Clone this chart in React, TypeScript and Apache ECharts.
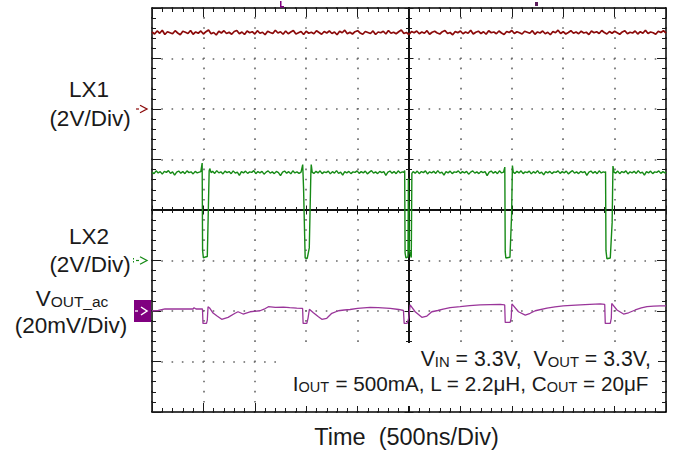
import React, { useEffect, useRef } from "react";
import * as echarts from "echarts";

// ---- scope settings -------------------------------------------------------
const NS_PER_DIV = 500;          // Time (500ns/Div)
const X_DIVS = 10;
const Y_DIVS = 8;
const TRIGGER_NS = 2500;         // screen centre, times below are from the left edge

// channel ground position (divisions from screen centre) and scale per division
const LX1_GROUND_DIV = 2;
const LX1_V_PER_DIV = 2;
const LX2_GROUND_DIV = -1;
const LX2_V_PER_DIV = 2;
const VOUT_GROUND_DIV = -2;
const VOUT_MV_PER_DIV = 20;

// ---- traces ---------------------------------------------------------------
// LX1 (V), sampled every 25 ns from the left edge
const LX1_DT_NS = 25;
const LX1_V = [
  3.05, 2.97, 3.09, 3.0, 3.12, 2.95, 3.06, 3.02, 2.98, 3.1,
  3.01, 2.94, 3.08, 3.04, 2.99, 3.11, 2.96, 3.05, 3.0, 3.09,
  2.97, 3.06, 3.13, 2.98, 3.03, 2.93, 3.08, 3.01, 3.1, 2.99,
  3.04, 2.96, 3.07, 3.11, 2.98, 3.05, 2.95, 3.09, 3.02, 3.06,
  2.97, 3.1, 3.0, 3.04, 2.94, 3.08, 3.03, 2.99, 3.12, 3.01,
  3.06, 2.96, 3.09, 2.98, 3.05, 3.11, 2.97, 3.02, 3.07, 2.95,
  3.08, 3.0, 3.04, 2.98, 3.1, 3.03, 2.96, 3.07, 3.01, 3.09,
  2.99, 3.05, 2.94, 3.08, 3.02, 3.12, 2.98, 3.04, 2.97, 3.06,
  3.1, 3.01, 2.96, 3.07, 3.03, 2.99, 3.09, 2.95, 3.05, 3.02,
  3.08, 2.97, 3.11, 3.0, 3.04, 2.98, 3.06, 3.13, 2.99, 3.03,
  2.95, 3.07, 3.02, 3.09, 2.98, 3.05, 3.0, 3.1, 2.96, 3.04,
  3.08, 3.01, 2.97, 3.06, 3.11, 2.99, 3.03, 2.94, 3.07, 3.02,
  3.09, 2.98, 3.05, 3.0, 3.12, 2.97, 3.04, 3.08, 2.99, 3.06,
  2.96, 3.1, 3.02, 3.05, 2.98, 3.09, 3.01, 2.95, 3.07, 3.03,
  3.11, 2.99, 3.06, 3.02, 2.97, 3.08, 3.04, 3.0, 3.1, 2.96,
  3.05, 3.01, 3.09, 2.98, 3.04, 2.94, 3.07, 3.02, 3.12, 2.99,
  3.06, 2.97, 3.03, 3.1, 3.0, 3.05, 2.98, 3.08, 3.01, 3.04,
  2.95, 3.09, 3.02, 3.06, 2.99, 3.11, 3.03, 2.97, 3.07, 3.0,
  3.08, 3.02, 2.96, 3.05, 3.1, 2.98, 3.04, 3.01, 3.09, 2.97,
  3.06, 3.0, 3.12, 2.99, 3.05, 3.02, 2.96, 3.08, 3.03, 3.1,
  3.01,
];

// LX2: [ns from left edge, V]
const LX2_POINTS: [number, number][] = [
  [0, 3.5], [20, 3.44], [40, 3.55], [60, 3.47], [80, 3.52], [100, 3.42], [120, 3.53], [140, 3.49], [160, 3.56], [180, 3.45],
  [200, 3.51], [220, 3.38], [240, 3.5], [260, 3.54], [280, 3.46], [300, 3.52], [320, 3.44], [340, 3.55], [360, 3.48], [380, 3.51],
  [400, 3.43], [420, 3.53], [440, 3.47], [460, 3.5], [475, 3.52],
  [488, 3.86], [492, 0.4], [500, 0.1], [520, 0.14], [538, 0.16], [550, 2.4], [556, 3.55], [562, 3.64], [575, 3.48],
  [590, 3.53], [610, 3.45], [630, 3.56], [650, 3.47], [670, 3.51], [690, 3.43], [710, 3.54], [730, 3.48], [750, 3.52], [770, 3.44],
  [790, 3.55], [810, 3.46], [830, 3.5], [850, 3.37], [870, 3.52], [890, 3.47], [910, 3.54], [930, 3.45], [950, 3.51], [970, 3.49],
  [990, 3.56], [1010, 3.44], [1030, 3.52], [1050, 3.47], [1070, 3.53], [1090, 3.42], [1110, 3.5], [1130, 3.55], [1150, 3.46], [1170, 3.51],
  [1190, 3.44], [1210, 3.53], [1230, 3.48], [1250, 3.36], [1270, 3.5], [1290, 3.54], [1310, 3.46], [1330, 3.52], [1350, 3.43], [1370, 3.55],
  [1390, 3.47], [1410, 3.51], [1430, 3.45], [1450, 3.5],
  [1466, 3.8], [1474, 2.9], [1490, 0.1], [1510, 0.08], [1530, 0.5], [1545, 3.4], [1549, 3.8], [1558, 3.5],
  [1575, 3.45], [1595, 3.53], [1615, 3.47], [1635, 3.55], [1655, 3.44], [1675, 3.51], [1695, 3.48], [1715, 3.54], [1735, 3.43], [1755, 3.52],
  [1775, 3.46], [1795, 3.56], [1815, 3.45], [1835, 3.5], [1855, 3.38], [1875, 3.52], [1895, 3.47], [1915, 3.53], [1935, 3.44], [1955, 3.51],
  [1975, 3.49], [1995, 3.55], [2015, 3.45], [2035, 3.52], [2055, 3.47], [2075, 3.54], [2095, 3.43], [2115, 3.5], [2135, 3.56], [2155, 3.46],
  [2175, 3.51], [2195, 3.44], [2215, 3.53], [2235, 3.48], [2255, 3.52], [2275, 3.37], [2295, 3.5], [2315, 3.54], [2335, 3.46], [2355, 3.52],
  [2375, 3.44], [2395, 3.55], [2415, 3.47], [2435, 3.51], [2450, 3.49],
  [2458, 3.56], [2462, 0.3], [2470, 0.1], [2490, 0.14], [2494, 3.25], [2500, 3.25], [2503, 0.4], [2522, 0.12], [2528, 3.45], [2540, 3.52],
  [2560, 3.46], [2580, 3.54], [2600, 3.44], [2620, 3.52], [2640, 3.48], [2660, 3.55], [2680, 3.43], [2700, 3.51], [2720, 3.47], [2740, 3.53],
  [2760, 3.45], [2780, 3.56], [2800, 3.46], [2820, 3.5], [2840, 3.38], [2860, 3.52], [2880, 3.47], [2900, 3.54], [2920, 3.44], [2940, 3.51],
  [2960, 3.49], [2980, 3.55], [3000, 3.45], [3020, 3.52], [3040, 3.47], [3060, 3.53], [3080, 3.42], [3100, 3.5], [3120, 3.55], [3140, 3.46],
  [3160, 3.51], [3180, 3.44], [3200, 3.53], [3220, 3.48], [3240, 3.52], [3260, 3.36], [3280, 3.5], [3300, 3.54], [3320, 3.46], [3340, 3.52],
  [3360, 3.44], [3380, 3.55], [3400, 3.47], [3420, 3.5],
  [3432, 3.7], [3436, 0.35], [3442, 0.1], [3482, 0.13], [3498, 1.8], [3506, 3.76], [3514, 3.5],
  [3530, 3.45], [3550, 3.53], [3570, 3.47], [3590, 3.55], [3610, 3.44], [3630, 3.51], [3650, 3.48], [3670, 3.54], [3690, 3.43], [3710, 3.52],
  [3730, 3.46], [3750, 3.56], [3770, 3.45], [3790, 3.5], [3810, 3.39], [3830, 3.52], [3850, 3.47], [3870, 3.53], [3890, 3.44], [3910, 3.51],
  [3930, 3.49], [3950, 3.55], [3970, 3.45], [3990, 3.52], [4010, 3.47], [4030, 3.54], [4050, 3.43], [4070, 3.5], [4090, 3.56], [4110, 3.46],
  [4130, 3.51], [4150, 3.44], [4170, 3.53], [4190, 3.48], [4210, 3.52], [4230, 3.37], [4250, 3.5], [4270, 3.54], [4290, 3.46], [4310, 3.52],
  [4330, 3.44], [4350, 3.55], [4370, 3.47], [4390, 3.51], [4405, 3.49],
  [4412, 3.52], [4416, 0.4], [4425, 0.07], [4458, 0.1], [4476, 1.5], [4484, 3.74], [4494, 3.5],
  [4510, 3.46], [4530, 3.54], [4550, 3.44], [4570, 3.52], [4590, 3.48], [4610, 3.55], [4630, 3.43], [4650, 3.51], [4670, 3.47], [4690, 3.53],
  [4710, 3.45], [4730, 3.56], [4750, 3.46], [4770, 3.5], [4790, 3.38], [4810, 3.52], [4830, 3.47], [4850, 3.54], [4870, 3.44], [4890, 3.51],
  [4910, 3.49], [4930, 3.55], [4950, 3.45], [4970, 3.52], [4990, 3.47], [5000, 3.5],
];

// VOUT_ac: [ns from left edge, mV]
const VOUT_POINTS: [number, number][] = [
  [0, 0.1], [60, 0.2], [127, 0.8], [250, 0.8], [399, 0.8], [409, 1.3], [428, 0.8], [491, 0.8],
  [496, -4.9], [530, -4.9], [538, -3.6], [545, 1.7], [560, 1.2], [594, -0.8], [633, -2.0], [678, -3.3], [740, -2.5], [808, -0.9], [837, -0.3], [886, -1.2], [954, -0.3], [1051, 0.1], [1090, 0.7], [1132, 1.7], [1200, 1.4], [1278, 1.5], [1340, 1.3], [1408, 1.1], [1465, 1.0],
  [1470, -4.9], [1506, -4.9], [1518, -2.8], [1531, 0.7], [1570, -0.7], [1619, -2.3], [1652, -3.3], [1700, -2.9], [1749, -0.9], [1813, 0.1], [1870, 0.4], [1927, 0.6], [2000, 1.0], [2060, 1.2], [2122, 1.4], [2200, 1.3], [2317, 1.0], [2400, 0.6], [2446, 0.2],
  [2453, -4.9], [2482, -4.9], [2497, -2.8], [2511, 2.4], [2560, -0.3], [2625, -2.5], [2674, -2.0], [2722, -0.3], [2780, 0.2], [2832, 0.7], [2900, 1.3], [2998, 1.7], [3090, 2.1], [3192, 2.4], [3290, 2.5], [3387, 2.6], [3431, 2.4],
  [3436, -4.5], [3484, -4.5], [3494, -2.8], [3501, 2.8], [3565, -0.3], [3631, -1.6], [3679, -0.9], [3728, 0.1], [3842, 1.1], [3920, 1.6], [4000, 2.0], [4080, 2.2], [4166, 2.4], [4260, 2.6], [4360, 2.8], [4404, 2.6],
  [4409, -4.9], [4458, -4.9], [4468, -2.8], [4472, 3.0], [4523, 0.4], [4587, -1.2], [4636, -0.7], [4701, 0.4], [4760, 1.2], [4815, 1.7], [4880, 1.9], [4944, 2.0], [5000, 2.0],
];

// ---- text -----------------------------------------------------------------
const CH1_LABEL = ["LX1", "(2V/Div)"];
const CH2_LABEL = ["LX2", "(2V/Div)"];
const CH3_LABEL = ["{v|V}{s|OUT_ac}", "(20mV/Div)"];
const X_TITLE = "Time  (500ns/Div)";
const NOTE_LINE1 = "{n|V}{s|IN}{n| = 3.3V,  V}{s|OUT}{n| = 3.3V,}";
const NOTE_LINE2 = "{m|I}{t|OUT}{m| = 500mA, L = 2.2μH, C}{t|OUT}{m| = 20μF}";

const FONT = '"Liberation Sans", Arial, Helvetica, sans-serif';
const C_LX1 = "#8b0a0a";
const C_LX2 = "#168a16";
const C_VOUT = "#9a359a";
const C_VOUT_TAG = "#800080";

function buildOption() {
  const halfX = (X_DIVS * NS_PER_DIV) / 2;
  const halfY = Y_DIVS / 2;
  const lx1 = LX1_V.map((v, i) => [i * LX1_DT_NS - TRIGGER_NS, LX1_GROUND_DIV + v / LX1_V_PER_DIV]);
  const lx2 = LX2_POINTS.map(([t, v]) => [t - TRIGGER_NS, LX2_GROUND_DIV + v / LX2_V_PER_DIV]);
  const vout = VOUT_POINTS.map(([t, v]) => [t - TRIGGER_NS, VOUT_GROUND_DIV + v / VOUT_MV_PER_DIV]);

  const tickStyle = { color: "#1a1a1a", width: 1 };
  const frameLine = { color: "#000", width: 1.5 };
  const xBase = {
    type: "value" as const,
    min: -halfX,
    max: halfX,
    interval: NS_PER_DIV,
    axisLabel: { show: false },
    splitLine: { show: false },
  };
  const yBase = {
    type: "value" as const,
    min: -halfY,
    max: halfY,
    interval: 1,
    axisLabel: { show: false },
    splitLine: { show: false },
  };
  const borderTicks = {
    axisTick: { show: true, inside: true, length: 9, lineStyle: tickStyle },
    minorTick: { show: true, splitNumber: 5, length: 4, lineStyle: tickStyle },
  };
  const centreTicks = (inside: boolean) => ({
    axisTick: { show: true, inside, length: 4.5, lineStyle: tickStyle },
    minorTick: { show: true, splitNumber: 5, length: 3, lineStyle: tickStyle },
  });

  return {
    animation: false,
    backgroundColor: "#fff",
    grid: { left: 152, top: 8, width: 514, height: 404, containLabel: false },
    xAxis: [
      {
        ...xBase,
        position: "bottom",
        axisLine: { show: true, onZero: false, lineStyle: frameLine },
        ...borderTicks,
        splitLine: { show: true, lineStyle: { color: "#666", width: 1.6, type: [1.6, 8.5], dashOffset: 0.8 } },
      },
      { ...xBase, position: "top", axisLine: { show: true, onZero: false, lineStyle: frameLine }, ...borderTicks },
      { ...xBase, position: "bottom", axisLine: { show: true, onZero: true, onZeroAxisIndex: 0, lineStyle: frameLine }, ...centreTicks(false) },
      { ...xBase, position: "bottom", axisLine: { show: true, onZero: true, onZeroAxisIndex: 0, lineStyle: frameLine }, ...centreTicks(true) },
    ],
    yAxis: [
      {
        ...yBase,
        position: "left",
        axisLine: { show: true, onZero: false, lineStyle: frameLine },
        ...borderTicks,
        splitLine: { show: true, lineStyle: { color: "#666", width: 1.6, type: [1.6, 8.68], dashOffset: 0.8 } },
      },
      { ...yBase, position: "right", axisLine: { show: true, onZero: false, lineStyle: frameLine }, ...borderTicks },
      { ...yBase, position: "left", axisLine: { show: true, onZero: true, onZeroAxisIndex: 0, lineStyle: frameLine }, ...centreTicks(false) },
      { ...yBase, position: "left", axisLine: { show: true, onZero: true, onZeroAxisIndex: 0, lineStyle: frameLine }, ...centreTicks(true) },
    ],
    series: [
      { type: "line", name: "LX1", data: lx1, symbol: "none", showSymbol: false, silent: true, z: 3, lineStyle: { color: C_LX1, width: 1.7 } },
      { type: "line", name: "LX2", data: lx2, symbol: "none", showSymbol: false, silent: true, z: 4, lineStyle: { color: C_LX2, width: 1.4 } },
      { type: "line", name: "VOUT_ac", data: vout, symbol: "none", showSymbol: false, silent: true, z: 5, lineStyle: { color: C_VOUT, width: 1.3 } },
    ],
  };
}

function label(text: string, x: number, y: number, size = 22.5, rich?: any) {
  return {
    type: "text",
    x,
    y,
    z: 20,
    style: {
      text,
      font: `${size}px ${FONT}`,
      fontSize: size,
      fontFamily: FONT,
      fill: "#1a1a1a",
      align: "center",
      verticalAlign: "middle",
      textAlign: "center",
      textVerticalAlign: "middle",
      rich,
    },
  };
}

function arrow(gl: number, y: number, color: string, dotted: boolean) {
  const els: any[] = [
    { type: "line", z: 20, shape: { x1: gl - 16, y1: y, x2: gl - 13, y2: y }, style: { stroke: color, lineWidth: 1.2 } },
    {
      type: "polyline",
      z: 20,
      shape: { points: [[gl - 12, y - 3.8], [gl - 5, y], [gl - 12, y + 3.8]] },
      style: { stroke: color, lineWidth: 1.3, fill: "none" },
    },
  ];
  if (dotted) {
    els.push({ type: "rect", z: 20, shape: { x: gl - 19, y: y - 2.5, width: 1, height: 1.5 }, style: { fill: color } });
    els.push({ type: "rect", z: 20, shape: { x: gl - 19, y: y + 0.5, width: 1, height: 1.5 }, style: { fill: color } });
  }
  return els;
}

export default function App() {
  const ref = useRef<HTMLDivElement>(null);
  useEffect(() => {
    if (!ref.current) return;
    const chart = echarts.init(ref.current, null, { renderer: "svg" });
    chart.setOption(buildOption() as any);

    const toPx = (div: number) => (chart.convertToPixel({ gridIndex: 0 }, [0, div]) as number[])[1];
    const gl = (chart.convertToPixel({ gridIndex: 0 }, [-(X_DIVS * NS_PER_DIV) / 2, 0]) as number[])[0];
    const gr = (chart.convertToPixel({ gridIndex: 0 }, [(X_DIVS * NS_PER_DIV) / 2, 0]) as number[])[0];
    const gb = toPx(-Y_DIVS / 2);
    const y1 = toPx(LX1_GROUND_DIV);
    const y2 = toPx(LX2_GROUND_DIV);
    const y3 = toPx(VOUT_GROUND_DIV);

    const subRich = {
      v: { fontSize: 22.5, fontFamily: FONT, fill: "#1a1a1a", verticalAlign: "bottom" },
      s: { fontSize: 15.5, fontFamily: FONT, fill: "#1a1a1a", verticalAlign: "bottom" },
    };
    const noteRich = {
      n: { fontSize: 21.3, fontFamily: FONT, fill: "#1a1a1a", verticalAlign: "bottom" },
      s: { fontSize: 14.8, fontFamily: FONT, fill: "#1a1a1a", verticalAlign: "bottom" },
      m: { fontSize: 20.7, fontFamily: FONT, fill: "#1a1a1a", verticalAlign: "bottom" },
      t: { fontSize: 14.5, fontFamily: FONT, fill: "#1a1a1a", verticalAlign: "bottom" },
    };

    const graphic: any[] = [
      label(CH1_LABEL[0], 89, 89),
      label(CH1_LABEL[1], 90, 118),
      label(CH2_LABEL[0], 89, 236),
      label(CH2_LABEL[1], 90, 264.5),
      label(CH3_LABEL[0], 72, 298, 22.5, subRich),
      label(CH3_LABEL[1], 71, 325.5),
      label(X_TITLE, 406.5, 436.5, 23.5),
      // white note box
      { type: "rect", z: 15, shape: { x: 283, y: 343, width: gr - 283 - 8, height: gb - 343 - 6 }, style: { fill: "#fff" } },
      {
        type: "text", x: gr - 15, y: 359, z: 20,
        style: { text: NOTE_LINE1, rich: noteRich, align: "right", textAlign: "right", verticalAlign: "middle", textVerticalAlign: "middle", font: `21px ${FONT}` },
      },
      {
        type: "text", x: gr - 17.5, y: 383.5, z: 20,
        style: { text: NOTE_LINE2, rich: noteRich, align: "right", textAlign: "right", verticalAlign: "middle", textVerticalAlign: "middle", font: `21px ${FONT}` },
      },
      ...arrow(gl, y1, C_LX1, false),
      ...arrow(gl, y2, C_LX2, true),
      { type: "rect", z: 20, shape: { x: gl - 18, y: y3 - 11, width: 17, height: 22 }, style: { fill: C_VOUT_TAG } },
      { type: "line", z: 21, shape: { x1: gl - 17, y1: y3, x2: gl - 14, y2: y3 }, style: { stroke: "#fff", lineWidth: 1.3 } },
      { type: "polyline", z: 21, shape: { points: [[gl - 11, y3 - 4], [gl - 5, y3], [gl - 11, y3 + 4]] }, style: { stroke: "#fff", lineWidth: 1.5, fill: "none" } },
      // small markers above the screen
      { type: "rect", z: 20, shape: { x: 280, y: 1, width: 1.5, height: 6.5 }, style: { fill: C_VOUT_TAG } },
      { type: "rect", z: 20, shape: { x: 280, y: 6, width: 4, height: 1.5 }, style: { fill: C_VOUT_TAG } },
      { type: "rect", z: 20, shape: { x: 535, y: 2, width: 3, height: 4 }, style: { fill: "#5a1a5a" } },
    ];
    chart.setOption({ graphic });
    return () => chart.dispose();
  }, []);
  return (
    <div
      ref={ref}
      style={{ position: "fixed", left: 0, top: 0, width: 673, height: 454, background: "#fff" }}
    />
  );
}
